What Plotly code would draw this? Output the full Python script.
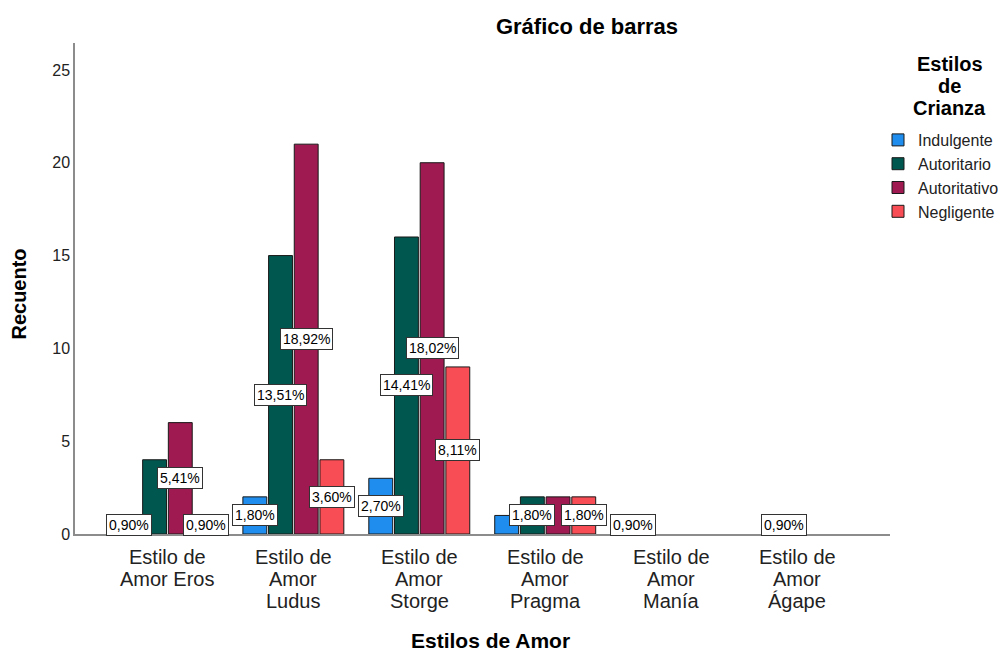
import plotly.graph_objects as go

# ---------------- data ----------------
categories = ["Eros", "Ludus", "Storge", "Pragma", "Manía", "Ágape"]
tick_lines = [
    ["Estilo de", "Amor Eros"],
    ["Estilo de", "Amor", "Ludus"],
    ["Estilo de", "Amor", "Storge"],
    ["Estilo de", "Amor", "Pragma"],
    ["Estilo de", "Amor", "Manía"],
    ["Estilo de", "Amor", "Ágape"],
]
series_names = ["Indulgente", "Autoritario", "Autoritativo", "Negligente"]
indulgente = [1, 2, 3, 1, 1, 0]
autoritario = [4, 15, 16, 2, 0, 1]
autoritativo = [6, 21, 20, 2, 0, 0]
negligente = [1, 4, 9, 2, 0, 0]
series_values = [indulgente, autoritario, autoritativo, negligente]
# which percentage labels are displayed (others hidden by overlap in original)
label_visible = [
    [True, True, True, False, True, False],
    [False, True, True, True, False, True],
    [True, True, True, False, False, False],
    [True, True, True, True, False, False],
]
y_ticks = [0, 5, 10, 15, 20, 25]
legend_title_lines = ["Estilos", "de", "Crianza"]

# ---------------- style ----------------
colors = ["#1f8ded", "#00574f", "#9e1a50", "#f94d55"]
FONT = "Liberation Sans, Arial, sans-serif"
W, H = 998, 644          # page body has an 8px margin
ml, mr, mt, mb = 66.5, 116, 35, 118
PW, PH = W - ml - mr, H - mt - mb
bargap = 0.184
bargroupgap = 0.07


def px_x(x):
    return (x - ml) / PW


def px_y(y):
    return (H - mb - y) / PH


total = sum(sum(v) for v in series_values)

fig = go.Figure()
for name, vals, col in zip(series_names, series_values, colors):
    fig.add_trace(go.Bar(
        name=name, x=categories, y=[v if v else None for v in vals],
        marker=dict(color=col, line=dict(color="#1a1a1a", width=1)),
    ))

annotations = []
slot = (1 - bargap) / len(series_names)
for k, (vals, vis) in enumerate(zip(series_values, label_visible)):
    for i, v in enumerate(vals):
        if v > 0 and vis[i]:
            txt = f"{100 * v / total:.2f}%".replace(".", ",")
            annotations.append(dict(
                x=i + (k - 1.5) * slot, y=v / 2, xref="x", yref="y",
                text=txt, showarrow=False,
                bgcolor="white", bordercolor="#333333", borderwidth=1, borderpad=2,
                font=dict(family=FONT, size=14, color="black"),
            ))

# category tick labels (tight line spacing as in original)
for i, lines in enumerate(tick_lines):
    for j, line in enumerate(lines):
        annotations.append(dict(
            x=i, y=0, xref="x", yref="paper", yanchor="middle",
            yshift=-(23 + 22 * j), text=line, showarrow=False,
            font=dict(family=FONT, size=20, color="#222222"),
        ))

# axis titles
annotations.append(dict(
    xref="paper", yref="paper", x=px_x(482), y=px_y(632), yanchor="middle",
    text="<b>Estilos de Amor</b>", showarrow=False,
    font=dict(family=FONT, size=21, color="black"),
))
annotations.append(dict(
    xref="paper", yref="paper", x=px_x(10), xanchor="center",
    y=px_y(286), yanchor="middle",
    text="<b>Recuento</b>", textangle=-90, showarrow=False,
    font=dict(family=FONT, size=20, color="black"),
))
# legend title
for j, line in enumerate(legend_title_lines):
    annotations.append(dict(
        xref="paper", yref="paper", x=px_x(942), y=px_y(56 + 22 * j),
        xanchor="center", yanchor="middle", text=f"<b>{line}</b>",
        showarrow=False, font=dict(family=FONT, size=20, color="black"),
    ))

fig.update_layout(
    width=W, height=H,
    margin=dict(l=ml, r=mr, t=mt, b=mb, autoexpand=False),
    paper_bgcolor="white", plot_bgcolor="white",
    barmode="group", bargap=bargap, bargroupgap=bargroupgap,
    title=dict(text="<b>Gráfico de barras</b>", xref="container", x=579 / W,
               xanchor="center", yref="container", y=1 - 18 / H, yanchor="middle",
               font=dict(family=FONT, size=22, color="black")),
    xaxis=dict(range=[-0.734, 5.738], showticklabels=False, ticks="",
               showline=True, linecolor="#8c8c8c", linewidth=1.5,
               showgrid=False, zeroline=False),
    yaxis=dict(range=[0, 26.45], tickvals=y_ticks, ticks="", showline=True,
               linecolor="#8c8c8c", linewidth=1.5, showgrid=False, zeroline=False,
               tickfont=dict(family=FONT, size=16, color="#222222")),
    legend=dict(
        font=dict(family=FONT, size=16, color="#222222"),
        xref="container", yref="container", x=870 / W, xanchor="left",
        y=1 - 115 / H, yanchor="top", bgcolor="rgba(0,0,0,0)",
        tracegroupgap=0,
    ),
    annotations=annotations,
    showlegend=True,
)

fig.write_html("out.html")
